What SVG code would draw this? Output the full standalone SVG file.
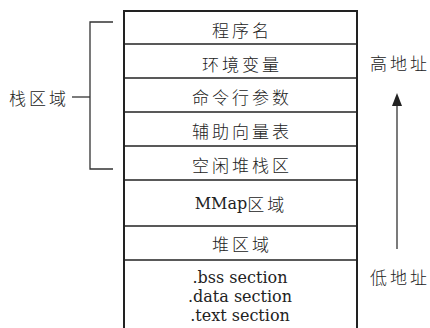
<svg xmlns="http://www.w3.org/2000/svg" width="430" height="328" viewBox="0 0 430 328">
<style>
.t{font-family:"Noto Sans CJK SC","Liberation Serif",serif;font-size:17px;font-weight:300;letter-spacing:3px;fill:#222;text-anchor:middle;dominant-baseline:central}
.l{font-family:"DejaVu Serif","Liberation Serif","Noto Sans CJK SC",serif;font-size:16px;fill:#222;text-anchor:middle;dominant-baseline:central}
.d{stroke:#222;stroke-width:1.6;fill:none}
.c{stroke:#333;stroke-width:1.3;fill:none}
</style>
<rect x="0" y="0" width="430" height="328" fill="#fff"/>
<g id="memory">
<path class="d" d="M124,328 V11 H357 V328" style="stroke-width:2"/>
</g>
<g id="n1"><text class="t" x="242" y="29">程序名</text></g>
<g id="n2"><line class="d" x1="124" y1="44" x2="357" y2="44"/><text class="t" x="242" y="63">环境变量</text></g>
<g id="n3"><line class="d" x1="124" y1="78" x2="357" y2="78"/><text class="t" x="242" y="96">命令行参数</text></g>
<g id="n4"><line class="d" x1="124" y1="112" x2="357" y2="112"/><text class="t" x="242" y="130">辅助向量表</text></g>
<g id="n5"><line class="d" x1="124" y1="146" x2="357" y2="146"/><text class="t" x="242" y="164">空闲堆栈区</text></g>
<g id="n6"><line class="d" x1="124" y1="180" x2="357" y2="180"/><text class="l" x="241" y="203">MMap<tspan style="font-family:'Noto Sans CJK SC',sans-serif;font-size:17px;font-weight:300;letter-spacing:3px">区域</tspan></text></g>
<g id="n7"><line class="d" x1="124" y1="226" x2="357" y2="226"/><text class="t" x="242" y="243">堆区域</text></g>
<g id="n8"><line class="d" x1="124" y1="260" x2="357" y2="260"/>
<text class="l" x="240" y="277">.bss section</text>
<text class="l" x="240" y="296">.data section</text>
<text class="l" x="240" y="315">.text section</text></g>
<g id="stack-label"><text class="t" x="39" y="97">栈区域</text></g>
<g id="high"><text class="t" x="400" y="62">高地址</text></g>
<g id="low"><text class="t" x="400" y="276">低地址</text></g>
<g id="connectors">
<path class="c" d="M113,22 H90 V169 H113"/>
<line class="c" x1="72" y1="97" x2="90" y2="97"/>
<line class="c" x1="397" y1="249" x2="397" y2="104"/>
<path d="M397,93 L402,106 L392,106 Z" fill="#222"/>
</g>
</svg>
